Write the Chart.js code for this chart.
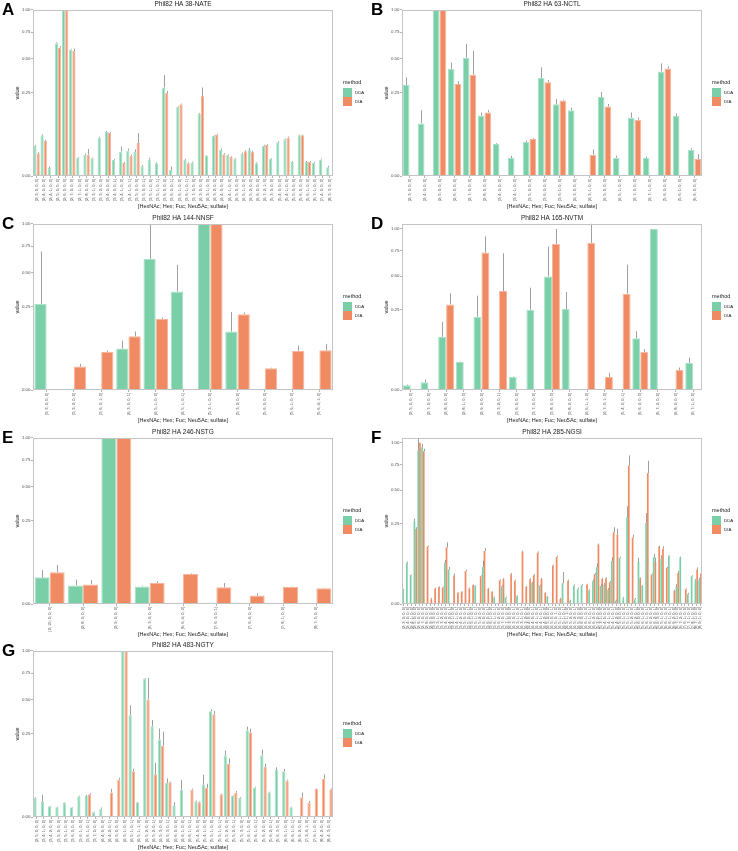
<!DOCTYPE html>
<html>
<head>
<meta charset="utf-8">
<script src="https://cdn.jsdelivr.net/npm/chart.js@4.4.6/dist/chart.umd.min.js"></script>
<style>
  body { margin: 0; background: #fff; font-family: "Liberation Sans", Arial, sans-serif; }
  #fig { position: relative; width: 738px; height: 851px; overflow: hidden; }
  .panel { position: absolute; width: 369px; height: 213px; }
  .panel canvas { position: absolute; left: 0; top: 0; }
  .tag { position: absolute; left: 2px; top: 1px; font-size: 17px; line-height: 17px; font-weight: bold; color: #000; }
  .lg-title { position: absolute; left: 343px; top: 79px; font-size: 5.5px; line-height: 7px; color: #1a1a1a; }
  .lg-key { position: absolute; left: 343px; width: 9px; height: 8.5px; }
  .lg-text { position: absolute; left: 355px; font-size: 4.4px; line-height: 5px; color: #1a1a1a; }
</style>
</head>
<body>
<div id="fig"></div>
<script>
// y ticks (plot uses a square-root axis)
const yTicks = [0, 0.25, 0.5, 0.75, 1];
const methods = ['DDA', 'DIA'];

// A: Phil82 HA 38-NATE
const labelsA = ["[2; 3; 0; 0; 0]","[2; 4; 0; 0; 0]","[2; 4; 1; 0; 0]","[2; 5; 0; 0; 0]","[2; 6; 0; 0; 0]","[2; 7; 0; 0; 0]","[2; 7; 1; 0; 0]","[2; 8; 0; 0; 0]","[3; 3; 1; 0; 0]","[3; 3; 2; 0; 0]","[3; 4; 0; 0; 0]","[3; 4; 0; 0; 1]","[3; 4; 1; 0; 0]","[3; 4; 1; 0; 1]","[3; 5; 0; 0; 0]","[3; 5; 0; 0; 1]","[3; 5; 1; 0; 0]","[3; 5; 1; 0; 1]","[3; 6; 0; 0; 0]","[3; 6; 0; 0; 1]","[3; 6; 1; 0; 0]","[3; 6; 1; 0; 1]","[3; 7; 0; 0; 0]","[4; 3; 0; 0; 0]","[4; 3; 1; 0; 0]","[4; 3; 2; 0; 0]","[4; 4; 0; 0; 0]","[4; 4; 1; 0; 0]","[4; 5; 0; 0; 0]","[4; 5; 1; 0; 0]","[4; 5; 2; 0; 0]","[4; 6; 0; 0; 0]","[4; 7; 2; 1; 0]","[5; 3; 0; 0; 0]","[5; 4; 0; 0; 0]","[5; 4; 1; 0; 0]","[5; 5; 0; 0; 0]","[5; 6; 0; 0; 0]","[5; 6; 1; 0; 0]","[6; 7; 1; 0; 0]","[7; 4; 0; 0; 0]","[8; 3; 3; 0; 0]"];
const ddaA = [.033,.060,.0023,.639,1,.580,.0122,.0164,.0113,.0531,.070,.0093,.0214,.0232,.0208,.0034,.0100,.0058,.284,.0013,.174,.0093,.0064,.139,.0149,.0578,.0244,.0159,.0109,.0175,.0244,.0058,.0333,.0104,.041,.0486,.0071,.0598,.0071,.0064,.0100,.0027];
const ddaSdA = [.002,.003,.001,.008,0,.006,.001,.002,.001,.003,.003,.001,.010,.004,.005,.001,.002,.001,.085,.002,.004,.001,.001,.004,.001,.002,.003,.001,.001,.002,.004,.001,.002,.001,.003,.002,.001,.002,.001,.001,.001,.001];
const diaA = [.0186,.0443,null,.598,1,.565,null,.0164,null,null,.0668,null,.0061,.0145,.0394,null,null,null,.249,null,.187,.0058,null,.231,null,.0627,.0170,.0135,null,.022,.0214,null,.0347,null,null,.0531,null,.0598,.0071,null,null,null];
const diaSdA = [.002,.003,null,.012,0,.022,null,.010,null,null,.003,null,.001,.002,.027,null,null,null,.012,null,.003,.001,null,.053,null,.002,.002,.001,null,.002,.002,null,.002,null,null,.003,null,.002,.001,null,null,null];

// B: Phil82 HA 63-NCTL
const labelsB = ["[2; 3; 0; 0; 0]","[2; 4; 0; 0; 0]","[2; 5; 0; 0; 0]","[2; 6; 0; 0; 0]","[2; 7; 0; 0; 0]","[2; 8; 0; 0; 0]","[3; 4; 0; 0; 0]","[3; 4; 1; 0; 0]","[3; 5; 0; 0; 0]","[3; 6; 0; 0; 0]","[3; 6; 1; 0; 0]","[4; 3; 0; 0; 0]","[4; 3; 1; 0; 0]","[4; 5; 0; 0; 0]","[4; 5; 1; 0; 0]","[4; 7; 0; 0; 0]","[4; 7; 1; 0; 0]","[5; 6; 0; 0; 0]","[5; 6; 1; 0; 0]","[6; 6; 0; 0; 0]"];
const ddaB = [.299,.100,1,.416,.506,.133,.037,.0117,.0418,.347,.186,.156,null,.2256,.0121,.123,.0117,.396,.130,.025];
const ddaSdB = [.053,.057,0,.051,.124,.013,.002,.003,.004,.080,.028,.013,null,.029,.003,.023,.002,.063,.012,.003];
const diaB = [null,null,1,.306,.371,.146,null,null,.0504,.319,.207,null,.0165,.175,null,.115,null,.419,null,.0104];
const diaSdB = [null,null,0,.018,.197,.011,null,null,.002,.014,.004,null,.009,.013,null,.009,null,.016,null,.007];

// C: Phil82 HA 144-NNSF
const labelsC = ["[3; 3; 0; 0; 0]","[3; 3; 2; 0; 0]","[3; 6; 0; 1; 0]","[4; 3; 0; 0; 1]","[4; 5; 1; 0; 0]","[4; 5; 1; 0; 1]","[5; 3; 1; 0; 0]","[5; 3; 2; 0; 0]","[5; 6; 0; 0; 0]","[5; 6; 1; 0; 0]","[5; 6; 4; 1; 0]"];
const ddaC = [.268,null,null,.062,.623,.351,1,.1235,null,null,null];
const ddaSdC = [.426,null,null,.026,.377,.216,0,.096,null,null,null];
const diaC = [null,.0198,.0524,.1045,.183,null,1,.208,.017,.0552,.0571];
const diaSdC = [null,.005,.004,.019,.007,null,0,.009,.001,.016,.020];

// D: Phil82 HA 165-NVTM
const labelsD = ["[2; 5; 0; 0; 0]","[2; 7; 0; 0; 0]","[2; 8; 0; 0; 0]","[2; 8; 1; 0; 0]","[2; 9; 0; 0; 0]","[3; 3; 2; 0; 1]","[3; 6; 0; 0; 0]","[3; 7; 0; 0; 0]","[3; 8; 0; 0; 0]","[3; 8; 2; 0; 0]","[4; 6; 1; 1; 0]","[4; 7; 0; 1; 0]","[5; 4; 0; 0; 1]","[6; 6; 0; 0; 0]","[6; 7; 2; 0; 0]","[6; 8; 0; 0; 0]","[6; 7; 1; 0; 0]"];
const ddaD = [.00084,.0023,.109,.030,.206,null,.0065,.248,.495,.252,null,null,null,.1034,1,null,.0282];
const ddaSdD = [.0003,.002,.070,.001,.136,null,.0005,.155,.297,.117,null,null,null,.029,0,null,.012];
const diaD = [null,null,.282,null,.727,.377,null,null,.822,null,.833,.0065,.357,.056,null,.0155,null];
const diaSdD = [null,null,.078,null,.180,.343,null,null,.178,null,.230,.005,.248,.008,null,.004,null];

// E: Phil82 HA 246-NSTG
const labelsE = ["[2; 10; 0; 0; 0]","[2; 8; 0; 0; 0]","[2; 9; 0; 0; 0]","[6; 3; 4; 0; 0]","[6; 6; 4; 0; 0]","[7; 6; 3; 0; 1]","[7; 6; 4; 0; 0]","[7; 8; 1; 0; 0]","[8; 7; 5; 0; 0]"];
const ddaE = [.0258,.0125,1,.0112,null,null,null,null,null];
const ddaSdE = [.0155,.009,0,.001,null,null,null,null,null];
const diaE = [.0365,.0139,1,.0159,.0327,.0103,.0026,.0107,.0091];
const diaSdE = [.019,.007,0,.0026,.0015,.0056,.0016,.0004,.0005];

// F: Phil82 HA 285-NGSI
const labelsF = ["[2; 3; 0; 0; 0]","[2; 4; 0; 0; 0]","[2; 4; 1; 0; 0]","[2; 5; 0; 0; 0]","[2; 6; 0; 0; 0]","[2; 7; 0; 0; 0]","[2; 8; 0; 0; 0]","[2; 9; 0; 0; 0]","[3; 3; 0; 0; 0]","[3; 3; 1; 0; 0]",
  "[3; 3; 2; 0; 0]","[3; 4; 0; 0; 0]","[3; 4; 0; 0; 1]","[3; 4; 1; 0; 0]","[3; 4; 1; 0; 1]","[3; 4; 2; 0; 0]","[3; 5; 0; 0; 0]","[3; 5; 0; 0; 1]","[3; 5; 1; 0; 0]","[3; 5; 1; 0; 1]",
  "[3; 5; 2; 0; 0]","[3; 6; 0; 0; 0]","[3; 6; 0; 0; 1]","[3; 6; 1; 0; 0]","[3; 6; 1; 0; 1]","[3; 6; 2; 0; 0]","[3; 7; 0; 0; 0]","[3; 7; 1; 0; 0]","[4; 3; 0; 0; 0]","[4; 3; 0; 0; 1]",
  "[4; 3; 1; 0; 0]","[4; 3; 1; 0; 1]","[4; 3; 2; 0; 0]","[4; 4; 0; 0; 0]","[4; 4; 0; 0; 1]","[4; 4; 1; 0; 0]","[4; 4; 1; 0; 1]","[4; 4; 2; 0; 0]","[4; 5; 0; 0; 0]","[4; 5; 0; 0; 1]",
  "[4; 5; 0; 1; 0]","[4; 5; 1; 0; 0]","[4; 5; 1; 0; 1]","[4; 5; 1; 1; 0]","[4; 5; 2; 0; 0]","[4; 5; 2; 0; 1]","[4; 5; 3; 0; 0]","[4; 6; 0; 0; 0]","[4; 6; 1; 0; 0]","[4; 6; 1; 0; 1]",
  "[4; 6; 2; 0; 0]","[5; 3; 0; 0; 0]","[5; 3; 1; 0; 0]","[5; 4; 0; 0; 0]","[5; 4; 1; 0; 0]","[5; 4; 1; 0; 1]","[5; 4; 2; 0; 0]","[5; 5; 0; 0; 0]","[5; 5; 1; 0; 0]","[5; 5; 1; 0; 1]",
  "[5; 5; 2; 0; 0]","[5; 5; 2; 0; 1]","[5; 6; 0; 0; 0]","[5; 6; 1; 0; 0]","[5; 6; 1; 0; 1]","[5; 6; 2; 0; 0]","[5; 6; 2; 0; 1]","[5; 6; 3; 0; 0]","[6; 5; 1; 0; 0]","[6; 6; 1; 0; 0]",
  "[6; 6; 1; 0; 1]","[6; 6; 2; 0; 0]","[6; 7; 1; 0; 0]","[6; 7; 2; 0; 0]","[7; 6; 1; 0; 0]","[7; 7; 1; 0; 0]","[7; 8; 1; 0; 0]","[8; 7; 1; 0; 0]","[8; 9; 1; 0; 0]"];
const ddaF = [.0078,.0654,.0325,.262,.906,.946,null,null,null,null,
  null,.0654,.0457,null,null,null,null,null,null,.0123,
  null,.053,null,null,.0018,null,.0119,.0016,null,null,
  .0025,null,null,null,.0174,null,.0133,null,.0019,null,
  null,null,.0164,null,.0004,.0128,.0085,.0133,null,.0074,
  .0197,.0522,.0123,.0138,.0078,.072,.0004,.0825,.0013,.290,
  null,.0009,.0676,.0128,.253,null,.0837,null,.079,null,
  .09,null,.011,.0837,null,.0037,.0296,.0209,.0228];
const ddaSdF = [.001,.004,.001,.018,.157,.04,null,null,null,null,
  null,.009,.007,null,null,null,null,null,null,.001,
  null,.019,null,null,.0005,null,.002,.0005,null,null,
  .0005,null,null,null,.002,null,.001,null,.0005,null,
  null,null,.023,null,.0003,.002,.002,.002,null,.001,
  .003,.011,.003,.003,.002,.012,.0003,.004,.0005,.077,
  null,.0005,.014,.001,.065,null,.013,null,.012,null,
  .002,null,.004,.003,null,.001,.002,.003,.004];
const diaF = [null,null,null,.217,1,.898,.127,.0009,.0093,.011,
  .0105,.1225,null,.031,.0048,.0057,.0413,.0093,.0138,null,
  .0296,.108,.009,.0057,null,.0215,.0234,null,.034,.0209,
  null,.1056,.0114,.0234,.0318,.1015,.0242,.0048,null,.0571,
  .0861,.001,null,.0209,null,null,null,null,.0148,null,
  .034,.1346,.0242,.0254,.018,.1975,.1865,null,null,.735,
  .1706,null,.0254,null,.658,.0337,.0676,.127,.118,.0503,
  null,.0067,.0372,null,.0085,null,null,.0457,.0356];
const diaSdF = [null,null,null,.01,0,.03,.005,.0005,.001,.001,
  .001,.024,null,.005,.0005,.0005,.004,.001,.001,null,
  .002,.012,.001,.0005,null,.002,.002,null,.003,.002,
  null,.004,.001,.002,.003,.005,.002,.0005,null,.003,
  .004,.0005,null,.002,null,null,null,null,.001,null,
  .003,.006,.002,.002,.002,.029,.031,null,null,.115,
  .014,null,.002,null,.131,.002,.016,.004,.010,.003,
  null,.001,.005,null,.001,null,null,.006,.003];

// G: Phil82 HA 483-NGTY
const labelsG = ["[2; 5; 0; 0; 0]","[3; 4; 1; 0; 0]","[3; 4; 2; 0; 0]","[3; 5; 0; 0; 0]","[3; 5; 1; 0; 0]","[3; 6; 0; 0; 0]","[3; 6; 1; 0; 0]","[3; 6; 1; 0; 1]","[3; 7; 0; 0; 0]","[4; 4; 0; 0; 0]",
  "[4; 4; 2; 0; 1]","[4; 5; 0; 0; 0]","[4; 5; 1; 0; 0]","[4; 5; 1; 0; 1]","[4; 5; 1; 1; 0]","[4; 5; 2; 0; 0]","[4; 5; 2; 0; 1]","[4; 5; 3; 0; 0]","[4; 5; 3; 0; 1]","[4; 6; 0; 0; 0]",
  "[4; 6; 1; 0; 0]","[4; 6; 1; 0; 1]","[5; 4; 0; 0; 0]","[5; 4; 1; 0; 0]","[5; 5; 1; 0; 0]","[5; 5; 1; 0; 1]","[5; 5; 2; 0; 0]","[5; 5; 2; 0; 1]","[5; 5; 3; 0; 0]","[5; 6; 1; 0; 0]",
  "[5; 6; 1; 0; 1]","[5; 6; 2; 0; 0]","[5; 6; 2; 0; 1]","[5; 6; 3; 0; 0]","[6; 6; 1; 0; 0]","[6; 6; 1; 0; 1]","[6; 6; 2; 0; 0]","[7; 3; 4; 1; 0]","[7; 6; 1; 0; 0]","[8; 4; 2; 0; 0]",
  "[8; 4; 3; 0; 0]"];
const ddaG = [.0131,.0089,.0041,.0034,.0075,.0034,.0155,.016,.0008,.0025,
  null,null,1,.375,.0078,.694,.298,.219,.042,.0049,
  .027,null,.0089,.038,.405,null,.138,.0165,.0131,.2726,
  .0312,.138,.0221,.080,.0757,.0034,null,null,null,null,
  null];
const ddaSdG = [.001,.009,.0003,.0004,.0005,.0003,.001,.002,.0002,.0008,
  null,null,0,.077,.0004,.006,.043,.064,.012,.003,
  .023,null,.001,.027,.015,null,.022,.001,.001,.023,
  .002,.026,.001,.0095,.008,.0004,null,null,null,null,
  null];
const diaG = [null,null,null,null,null,null,null,.0186,null,null,
  .0215,.0506,1,.0757,null,.50,.066,.185,.0436,null,
  null,.027,.0078,.0305,.382,.0186,.102,.0215,null,.258,
  null,.0907,null,null,.0479,null,.014,.0075,.029,.0533,
  .0278];
const diaSdG = [null,null,null,null,null,null,null,.002,null,null,
  .007,.005,0,.009,null,.20,.040,.079,.002,null,
  null,.002,.001,.0095,.026,.001,.022,.003,null,.024,
  null,.012,null,null,.003,null,.0075,.0018,.001,.0127,
  .002];

const FONT = '"Liberation Sans", Arial, sans-serif';
const GREEN = '#7acfa8', ORANGE = '#ef8a62';
const GREEN_EDGE = '#a9e2c8', ORANGE_EDGE = '#f7b59b';
const AXIS_TITLE = '[HexNAc; Hex; Fuc; Neu5Ac; sulfate]';

Chart.defaults.font.family = FONT;

// square-root y axis, like scale_y_sqrt in ggplot
class SqrtScale extends Chart.LinearScale {
  static id = 'sqrt';
  static defaults = Chart.LinearScale.defaults;
  getPixelForValue(value) {
    const lo = Math.sqrt(this.min), hi = Math.sqrt(this.max);
    return this.getPixelForDecimal((Math.sqrt(Math.max(value, 0)) - lo) / (hi - lo));
  }
  getValueForPixel(pixel) {
    const lo = Math.sqrt(this.min), hi = Math.sqrt(this.max);
    const s = lo + this.getDecimalForPixel(pixel) * (hi - lo);
    return s * s;
  }
}
Chart.register(SqrtScale);

const frame = {
  id: 'frame',
  afterDraw(chart) {
    const { ctx, chartArea: a } = chart;
    ctx.save();
    ctx.strokeStyle = '#c4c4c4';
    ctx.lineWidth = 1;
    ctx.strokeRect(Math.round(a.left) + 0.5, Math.round(a.top) + 0.5,
      Math.round(a.right - a.left) - 1, Math.round(a.bottom - a.top) - 1);
    ctx.restore();
  }
};

const errorBars = {
  id: 'errorBars',
  afterDatasetsDraw(chart) {
    const { ctx } = chart;
    const y = chart.scales.y;
    ctx.save();
    ctx.strokeStyle = 'rgba(135,135,135,0.8)';
    ctx.lineWidth = 1;
    chart.data.datasets.forEach((ds, i) => {
      chart.getDatasetMeta(i).data.forEach((bar, j) => {
        const v = ds.data[j], sd = ds.sd[j];
        if (v == null || !sd) return;
        const x = Math.round(bar.x) + 0.5;
        ctx.beginPath();
        ctx.moveTo(x, y.getPixelForValue(v));
        ctx.lineTo(x, y.getPixelForValue(v + sd));
        ctx.stroke();
      });
    });
    ctx.restore();
  }
};

const panels = [
  { tag: 'A', title: 'Phil82 HA 38-NATE', col: 0, row: 0, labels: labelsA, dda: ddaA, ddaSd: ddaSdA, dia: diaA, diaSd: diaSdA, max: 1 },
  { tag: 'B', title: 'Phil82 HA 63-NCTL', col: 1, row: 0, labels: labelsB, dda: ddaB, ddaSd: ddaSdB, dia: diaB, diaSd: diaSdB, max: 1 },
  { tag: 'C', title: 'Phil82 HA 144-NNSF', col: 0, row: 1, labels: labelsC, dda: ddaC, ddaSd: ddaSdC, dia: diaC, diaSd: diaSdC, max: 1 },
  { tag: 'D', title: 'Phil82 HA 165-NVTM', col: 1, row: 1, labels: labelsD, dda: ddaD, ddaSd: ddaSdD, dia: diaD, diaSd: diaSdD, max: 1.063 },
  { tag: 'E', title: 'Phil82 HA 246-NSTG', col: 0, row: 2, labels: labelsE, dda: ddaE, ddaSd: ddaSdE, dia: diaE, diaSd: diaSdE, max: 1 },
  { tag: 'F', title: 'Phil82 HA 285-NGSI', col: 1, row: 2, labels: labelsF, dda: ddaF, ddaSd: ddaSdF, dia: diaF, diaSd: diaSdF, max: 1.063 },
  { tag: 'G', title: 'Phil82 HA 483-NGTY', col: 0, row: 3, labels: labelsG, dda: ddaG, ddaSd: ddaSdG, dia: diaG, diaSd: diaSdG, max: 1 }
];
const rowTops = [0, 214, 428, 641];

const fig = document.getElementById('fig');

panels.forEach(p => {
  const box = document.createElement('div');
  box.className = 'panel';
  box.style.left = (p.col * 369) + 'px';
  box.style.top = rowTops[p.row] + 'px';
  box.innerHTML =
    `<canvas width="369" height="213"></canvas>` +
    `<div class="tag">${p.tag}</div>` +
    `<div class="lg-title">method</div>` +
    `<div class="lg-key" style="top:88px;background:${GREEN}"></div>` +
    `<div class="lg-text" style="top:90px">${methods[0]}</div>` +
    `<div class="lg-key" style="top:97px;background:${ORANGE}"></div>` +
    `<div class="lg-text" style="top:99px">${methods[1]}</div>`;
  fig.appendChild(box);

  // thin bars (panel F) lose their fill to the outline, so drop it there
  const edge = p.labels.length > 60 ? 0 : 1;

  new Chart(box.querySelector('canvas'), {
    type: 'bar',
    data: {
      labels: p.labels,
      datasets: [
        { label: methods[0], data: p.dda, sd: p.ddaSd, backgroundColor: GREEN, borderColor: GREEN_EDGE, borderWidth: edge },
        { label: methods[1], data: p.dia, sd: p.diaSd, backgroundColor: ORANGE, borderColor: ORANGE_EDGE, borderWidth: edge }
      ]
    },
    options: {
      responsive: false,
      animation: false,
      devicePixelRatio: 1,
      layout: { padding: { left: 0, right: 36, top: 0, bottom: 0 } },
      datasets: { bar: { categoryPercentage: 0.9, barPercentage: 1 } },
      plugins: {
        legend: { display: false },
        tooltip: { enabled: false },
        title: {
          display: true, text: p.title, fullSize: false, color: '#1a1a1a',
          font: { size: 6.5, weight: 'normal' }, padding: { top: 0.5, bottom: 1.5 }
        }
      },
      scales: {
        x: {
          offset: true,
          grid: { drawOnChartArea: false, offset: false, tickLength: 2, color: '#b3b3b3' },
          border: { display: false },
          ticks: { autoSkip: false, minRotation: 90, maxRotation: 90, padding: 1, color: '#4d4d4d', font: { size: 4 } },
          title: { display: true, text: AXIS_TITLE, color: '#1a1a1a', font: { size: 5.5 }, padding: { top: 0, bottom: 3 } },
          afterFit: s => { s.height = 37; }
        },
        y: {
          type: 'sqrt',
          min: 0,
          max: p.max,
          afterBuildTicks: s => { s.ticks = yTicks.map(v => ({ value: v })); },
          grid: { drawOnChartArea: false, tickLength: 2, color: '#b3b3b3' },
          border: { display: false },
          ticks: { padding: 0.5, color: '#4d4d4d', font: { size: 4.4 }, callback: v => Number(v).toFixed(2) },
          title: { display: true, text: 'value', color: '#1a1a1a', font: { size: 5.5 }, padding: { top: 14.5 } },
          afterFit: s => { s.width = 33; }
        }
      }
    },
    plugins: [frame, errorBars]
  });
});
</script>
</body>
</html>
